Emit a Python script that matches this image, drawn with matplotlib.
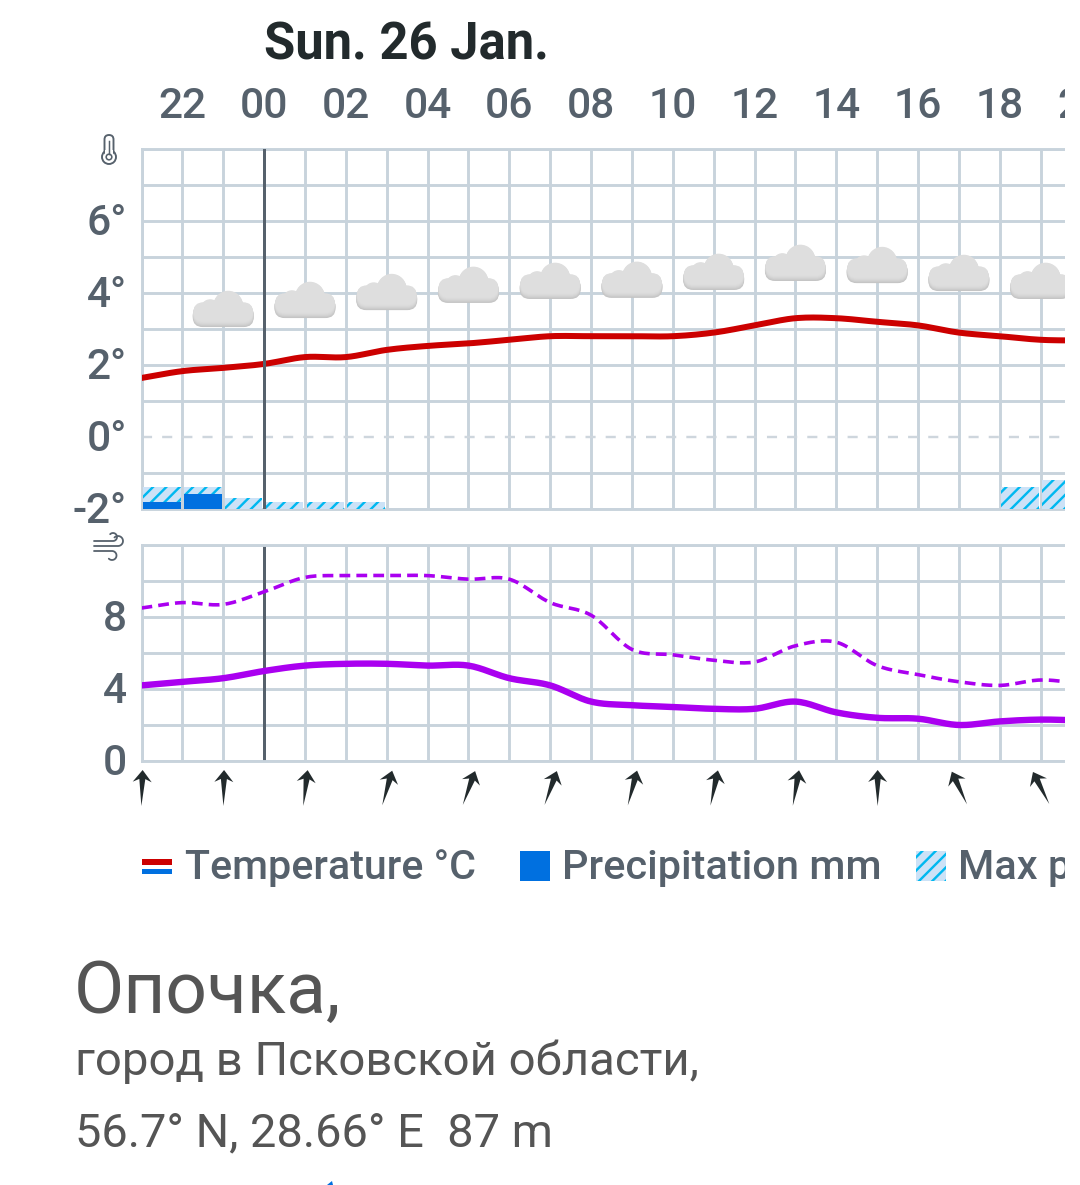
import numpy as np
import matplotlib
matplotlib.use("Agg")
import matplotlib.pyplot as plt
from matplotlib.patches import Circle, FancyBboxPatch, Polygon, Rectangle
from matplotlib.transforms import ScaledTranslation

# ---------- data ----------
hours = list(range(-3, 21))
temperature = [1.64, 1.83, 1.92, 2.03, 2.22, 2.22, 2.42, 2.53, 2.6, 2.7, 2.8, 2.8,
               2.8, 2.8, 2.9, 3.1, 3.3, 3.3, 3.2, 3.1, 2.9, 2.8, 2.7, 2.68]
wind_mean = [4.2, 4.4, 4.6, 5.0, 5.3, 5.4, 5.4, 5.3, 5.3, 4.6, 4.2, 3.3,
             3.1, 3.0, 2.9, 2.9, 3.3, 2.7, 2.4, 2.35, 2.0, 2.2, 2.3, 2.25]
wind_gust = [8.5, 8.8, 8.7, 9.4, 10.2, 10.3, 10.3, 10.3, 10.1, 10.1, 8.8, 8.1,
             6.2, 5.9, 5.6, 5.5, 6.4, 6.6, 5.3, 4.8, 4.4, 4.2, 4.5, 4.3]
precip_hours = [-3, -2, -1, 0, 1, 2, 18, 19]
precip_mean = [0.2, 0.42, 0, 0, 0, 0, 0, 0]
precip_max = [0.62, 0.62, 0.31, 0.2, 0.2, 0.2, 0.62, 0.8]
icon_hours = [-1, 1, 3, 5, 7, 9, 11, 13, 15, 17, 19]
icon_base = [3.11, 3.36, 3.58, 3.78, 3.89, 3.92, 4.14, 4.39, 4.33, 4.11, 3.89]
arrow_hours = [-3, -1, 1, 3, 5, 7, 9, 11, 13, 15, 17, 19]
arrow_dirs = [2, 1, 7, 16, 20, 20, 15, 12, 10, 0, -25, -27]
hour_ticks = list(range(-2, 21, 2))
hour_labels = ["22", "00", "02", "04", "06", "08", "10", "12", "14", "16", "18", "20"]
temp_ticks = [-2, 0, 2, 4, 6]
temp_labels = ["-2°", "0°", "2°", "4°", "6°"]
wind_ticks = [0, 4, 8]
wind_labels = ["0", "4", "8"]

# ---------- style ----------
W, H, DPI = 1080, 1185, 120
PT = 72 / DPI
GRID = "#c8d3dc"
GRID_W = 2.9 * PT
TEXT = "#56616c"
plt.rcParams["font.family"] = ["Roboto", "DejaVu Sans"]
plt.rcParams["hatch.linewidth"] = 2.4 * PT
plt.rcParams["hatch.color"] = "#00b8f0"
fig = plt.figure(figsize=(W / DPI, H / DPI), dpi=DPI, facecolor="white")
LIFT = ScaledTranslation(0, 2 / DPI, fig.dpi_scale_trans)


def make_axes(top, bottom, ymin, ymax):
    x0, x1 = 141.5, 1100
    ax = fig.add_axes([x0 / W, 1 - bottom / H, (x1 - x0) / W, (bottom - top) / H])
    ax.set_xlim(-3, -3 + (x1 - x0) / 40.87)
    ax.set_ylim(ymin, ymax)
    ax.set_axisbelow(True)
    for side in ("left", "top", "bottom"):
        ax.spines[side].set_color(GRID)
        ax.spines[side].set_linewidth(GRID_W)
    ax.spines["right"].set_visible(False)
    return ax


def smooth(x, y, n=16):
    x, y = np.asarray(x, float), np.asarray(y, float)
    d = np.gradient(y, x)
    xs, ys = [], []
    for i in range(len(x) - 1):
        t = np.linspace(0, 1, n, endpoint=False)
        h = x[i + 1] - x[i]
        ys.append((2*t**3 - 3*t**2 + 1) * y[i] + (t**3 - 2*t**2 + t) * h * d[i]
                  + (-2*t**3 + 3*t**2) * y[i + 1] + (t**3 - t**2) * h * d[i + 1])
        xs.append(x[i] + t * h)
    return np.r_[np.concatenate(xs), x[-1]], np.r_[np.concatenate(ys), y[-1]]


# ---------- temperature panel ----------
ax_t = make_axes(149, 509, -2, 8)
ax_t.set_xticks(hours, minor=True)
ax_t.set_xticks(hour_ticks, hour_labels)
ax_t.set_yticks(temp_ticks, temp_labels)
ax_t.set_yticks(range(-2, 9), minor=True)
ax_t.grid(which="both", color=GRID, lw=GRID_W)
ax_t.axhline(0, color="#ced6dd", lw=2.4 * PT, dashes=(4.2, 4.2), zorder=1)
ax_t.xaxis.tick_top()
ax_t.tick_params(axis="x", which="both", length=0, pad=22 * PT, labelsize=42.5 * PT, labelcolor=TEXT)
ax_t.tick_params(axis="y", which="both", length=0, pad=14.5 * PT, labelsize=42.5 * PT, labelcolor=TEXT)
for lab in ax_t.get_xticklabels() + ax_t.get_yticklabels():
    lab.set_fontweight(500)
tx, ty = smooth(hours, temperature)
ax_t.plot(tx, ty, color="#cc0000", lw=6 * PT, solid_capstyle="butt", zorder=4)

ax_p = ax_t.twinx()
ax_p.set_ylim(0, 10)
ax_p.set_yticks([])
for s in ax_p.spines.values():
    s.set_visible(False)
centers = [h + 0.5 for h in precip_hours]
ax_p.bar(centers, precip_max, width=0.92, facecolor="#cce2f7", edgecolor="#00b8f0",
         hatch="///", linewidth=0, zorder=2)
ax_p.bar(centers, precip_mean, width=0.92, color="#0070e0", linewidth=0, zorder=3)
ax_p.axvline(0, color=TEXT, lw=3 * PT, zorder=5)

for t, v in zip(ax_t.yaxis.get_major_ticks(), temp_ticks):
    t.label1.set_transform(t.label1.get_transform() + LIFT)
    if v == 0:
        t.gridline.set_visible(False)

# ---------- wind panel ----------
ax_w = make_axes(545, 761, 0, 12)
ax_w.set_xticks(hours, minor=True)
ax_w.set_xticks(hour_ticks, [""] * len(hour_ticks))
ax_w.set_yticks(wind_ticks, wind_labels)
ax_w.set_yticks(range(0, 13, 2), minor=True)
ax_w.grid(which="both", color=GRID, lw=GRID_W)
ax_w.tick_params(axis="both", which="both", length=0)
ax_w.tick_params(axis="y", pad=14.5 * PT, labelsize=42.5 * PT, labelcolor=TEXT)
for t in ax_w.yaxis.get_major_ticks():
    t.label1.set_transform(t.label1.get_transform() + LIFT)
    t.label1.set_fontweight(500)
ax_w.axvline(0, color=TEXT, lw=3 * PT, zorder=2)
gx, gy = smooth(hours, wind_gust)
mx, my = smooth(hours, wind_mean)
PURPLE = "#aa00f0"
ax_w.plot(gx, gy, color=PURPLE, lw=3.6 * PT, dashes=(3.0, 1.7), zorder=3)
ax_w.plot(mx, my, color=PURPLE, lw=6.4 * PT, solid_capstyle="butt", zorder=3)

# ---------- overlay in pixel coordinates ----------
ov = fig.add_axes([0, 0, 1, 1], zorder=10)
ov.set_xlim(0, W)
ov.set_ylim(H, 0)
ov.axis("off")


def to_px(ax, x, y):
    return ov.transData.inverted().transform(ax.transData.transform((x, y)))


CLOUD_TONES = ["#c4c4c4", "#cacaca", "#d0d0d0", "#d5d5d5", "#d9d9d9", "#dcdcdc", "#dedede"]


def cloud(cx, base):
    for k, color in enumerate(CLOUD_TONES):
        dy, inset = -0.75 * k, 0.12 * k
        z = 3 + 0.01 * k
        ov.add_patch(FancyBboxPatch((cx - 30.5 + 10 + inset, base - 21 + 10 + dy + inset + 2),
                                    61 - 20 - 2 * inset, 19 - 20 + 2 - 2 * inset + 0.01,
                                    boxstyle="round,pad=10", fc=color, ec="none", zorder=z))
        ov.add_patch(Circle((cx + 5, base - 15 + dy), 15.5 - inset, fc=color, ec="none", zorder=z))
        ov.add_patch(Circle((cx - 13, base - 11.5 + dy), 10.5 - inset, fc=color, ec="none", zorder=z))


for h, b in zip(icon_hours, icon_base):
    px, py = to_px(ax_t, h, b)
    cloud(px, py)

ARROW = np.array([(0, -18), (9.5, -6), (3, -9), (0, 18), (-3, -9), (-9.5, -6)])
for h, a in zip(arrow_hours, arrow_dirs):
    px, _ = to_px(ax_w, h, 0)
    r = np.radians(a)
    rot = np.array([[np.cos(r), -np.sin(r)], [np.sin(r), np.cos(r)]])
    ov.add_patch(Polygon(ARROW @ rot.T + (px + 0.5, 788), closed=True, fc="#222a2c", ec="none"))


def label(x, y, s, size, weight=500, color=TEXT, **kw):
    ov.text(x, y, s, fontsize=size * PT, fontweight=weight, color=color, va="center", ha="left", **kw)


label(264.5, 45, "Sun. 26 Jan.", 50.8, weight=700, color="#222a2c")

# legend
ov.add_patch(Rectangle((142, 859), 30, 6, fc="#cc0000", ec="none"))
ov.add_patch(Rectangle((142, 869), 30, 5, fc="#0070e0", ec="none"))
label(185, 868, "Temperature °C", 41.3)
ov.add_patch(Rectangle((520, 851), 30, 30, fc="#0070e0", ec="none"))
label(562.5, 868, "Precipitation mm", 41.5)
ov.add_patch(Rectangle((916, 851), 30, 30, fc="#cce2f7", ec="#00b8f0", hatch="///", lw=0))
label(958.5, 868, "Max precipitation mm", 41.5)

# place text
DARK = "#555555"
label(74, 993, "Опочка,", 73, weight=400, color=DARK)
label(75, 1062, "город в Псковской области,", 47.2, weight=400, color=DARK)
label(75, 1133, "56.7° N, 28.66° E  87 m", 47, weight=400, color=DARK)
ov.add_patch(Polygon([(327, 1185), (332, 1181), (333, 1185)], closed=True, fc="#0070e0", ec="none"))

# thermometer icon
ic = dict(ec=TEXT, lw=1.9 * PT)
ov.add_patch(Circle((109, 157), 7, fc="white", **ic))
ov.add_patch(FancyBboxPatch((104.5, 135), 9, 20, boxstyle="round,pad=0,rounding_size=4.5", fc="white", **ic))
ov.add_patch(Rectangle((105.4, 150), 7.2, 7, fc="white", ec="none", zorder=3))
ov.add_patch(Circle((109, 157), 2.8, fc="white", ec=TEXT, lw=1.6 * PT, zorder=4))
ov.plot([109, 109], [141, 154], color=TEXT, lw=1.5 * PT, zorder=4)


# wind icon
def curl(x0, x1, y, r, sign):
    t = np.linspace(np.pi / 2, -np.pi * 0.75, 24)
    xs = np.r_[x0, x1 + r * np.cos(t)]
    ys = np.r_[y, y - sign * r + sign * r * np.sin(t)]
    ov.plot(xs, ys, color=TEXT, lw=1.8 * PT, solid_capstyle="round")


curl(94, 113, 541, 4, 1)
curl(94, 118, 546, 5, 1)
curl(94, 112, 551, 4.5, -1)

# the capture ends here
ov.add_patch(Rectangle((1065, 0), 15, H, fc="white", ec="none", zorder=100))

fig.savefig("out.png", dpi=DPI, facecolor="white")
